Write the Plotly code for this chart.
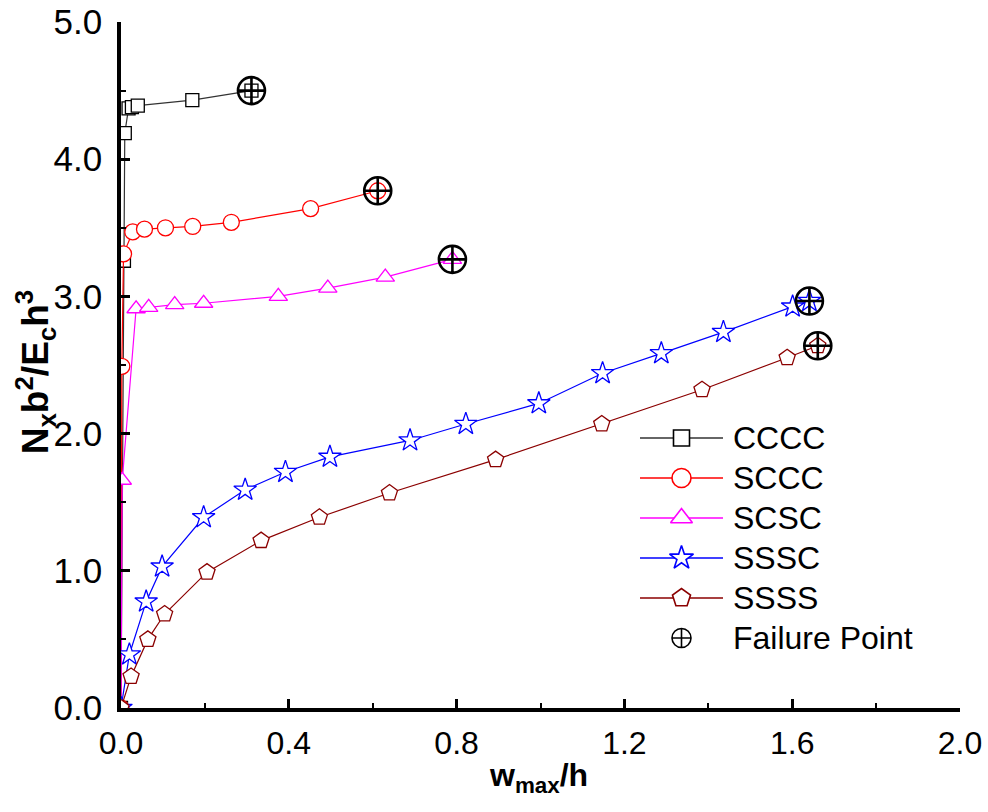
import plotly.graph_objects as go

# ---- data ----
cccc_x = [0.0, 0.007, 0.009, 0.018, 0.026, 0.040, 0.170, 0.311]
cccc_y = [0.0, 3.26, 4.19, 4.37, 4.38, 4.39, 4.43, 4.50]

sccc_x = [0.0, 0.002, 0.006, 0.028, 0.056, 0.106, 0.171, 0.263, 0.452, 0.612]
sccc_y = [0.0, 2.49, 3.31, 3.47, 3.49, 3.50, 3.51, 3.54, 3.64, 3.77]

scsc_x = [0.0, 0.003, 0.036, 0.066, 0.128, 0.197, 0.375, 0.493, 0.630, 0.790]
scsc_y = [0.0, 1.66, 2.91, 2.92, 2.94, 2.95, 3.00, 3.06, 3.14, 3.27]

sssc_x = [0.0, 0.020, 0.060, 0.098, 0.197, 0.296, 0.392, 0.498, 0.689, 0.822,
          0.996, 1.148, 1.288, 1.436, 1.601, 1.641]
sssc_y = [0.0, 0.39, 0.775, 1.03, 1.39, 1.59, 1.72, 1.83, 1.95, 2.07,
          2.22, 2.44, 2.585, 2.74, 2.925, 2.966]

ssss_x = [0.0, 0.024, 0.064, 0.104, 0.205, 0.334, 0.473, 0.640, 0.893,
          1.146, 1.385, 1.588, 1.661]
ssss_y = [0.0, 0.23, 0.50, 0.685, 0.99, 1.22, 1.39, 1.567, 1.81,
          2.07, 2.32, 2.553, 2.64]

fail_x = [0.311, 0.612, 0.790, 1.641, 1.661]
fail_y = [4.50, 3.77, 3.27, 2.966, 2.64]

x_ticks = [0.0, 0.4, 0.8, 1.2, 1.6, 2.0]
y_ticks = [0.0, 1.0, 2.0, 3.0, 4.0, 5.0]

series_names = ["CCCC", "SCCC", "SCSC", "SSSC", "SSSS"]
fail_name = "Failure Point"

FONT = "Liberation Sans, Arial, sans-serif"

styles = [
    ("#000000", "#333333", "square", 13, 16),
    ("#FF0000", "#FF0000", "circle", 16, 19),
    ("#FF00FF", "#FF00FF", "triangle-up", 16, 19),
    ("#0000FF", "#0000FF", "star", 17, 18),
    ("#8B0000", "#8B0000", "pentagon", 17, 19),
]
data = [(cccc_x, cccc_y), (sccc_x, sccc_y), (scsc_x, scsc_y),
        (sssc_x, sssc_y), (ssss_x, ssss_y)]

fig = go.Figure()
for name, (xs, ys), (mcol, lcol, sym, sz, _) in zip(series_names, data, styles):
    fig.add_trace(go.Scatter(
        x=xs, y=ys, name=name, mode="lines+markers", showlegend=False,
        line=dict(color=lcol, width=1.2),
        marker=dict(symbol=sym, size=sz, color="white",
                    line=dict(color=mcol, width=1.3)),
    ))

fig.add_trace(go.Scatter(
    x=fail_x, y=fail_y, name=fail_name, mode="markers", showlegend=False,
    marker=dict(symbol="circle-cross-open", size=27, color="black",
                line=dict(color="black", width=2.6)),
))

# ---- custom legend drawn on an overlay axis measured in pixels ----
LEG_X0, LEG_X1, LEG_TXT = 640, 723, 731
LEG_Y0, LEG_DY = 438, 40
for i, (name, (mcol, lcol, sym, _, lsz)) in enumerate(zip(series_names, styles)):
    yy = LEG_Y0 + i * LEG_DY
    fig.add_trace(go.Scatter(
        x=[LEG_X0, LEG_X1], y=[yy, yy], xaxis="x2", yaxis="y2", mode="lines",
        line=dict(color=lcol, width=1.5), showlegend=False, hoverinfo="skip"))
    fig.add_trace(go.Scatter(
        x=[(LEG_X0 + LEG_X1) / 2], y=[yy], xaxis="x2", yaxis="y2", mode="markers",
        marker=dict(symbol=sym, size=lsz, color="white", line=dict(color=mcol, width=1.6)),
        showlegend=False, hoverinfo="skip"))
    fig.add_annotation(x=LEG_TXT, y=yy, xref="x2", yref="y2", text=name,
                       showarrow=False, xanchor="left", yanchor="middle",
                       font=dict(family=FONT, size=32, color="black"))
yy = LEG_Y0 + 5 * LEG_DY
fig.add_trace(go.Scatter(
    x=[(LEG_X0 + LEG_X1) / 2], y=[yy], xaxis="x2", yaxis="y2", mode="markers",
    marker=dict(symbol="circle-cross-open", size=19, color="black",
                line=dict(color="black", width=1.6)),
    showlegend=False, hoverinfo="skip"))
fig.add_annotation(x=LEG_TXT, y=yy, xref="x2", yref="y2", text=fail_name,
                   showarrow=False, xanchor="left", yanchor="middle",
                   font=dict(family=FONT, size=32, color="black"))

axis_common = dict(
    showgrid=False, zeroline=False, showline=True, linecolor="black",
    linewidth=3.5, ticks="inside", ticklen=9, tickwidth=3, tickcolor="black",
    mirror=False, layer="above traces", automargin=False,
)

fig.update_layout(
    width=988, height=812,
    margin=dict(l=121, r=28, t=22, b=104, autoexpand=False),
    plot_bgcolor="white", paper_bgcolor="white",
    font=dict(family=FONT, color="black"),
    xaxis=dict(
        range=[0, 2.0], tickvals=x_ticks, ticktext=[f"{v:.1f}" for v in x_ticks],
        minor=dict(ticks="inside", dtick=0.2, ticklen=5, tickwidth=2, tickcolor="black"),
        tickfont=dict(family=FONT, size=32, color="black"), ticklabelstandoff=4,
        **axis_common),
    yaxis=dict(
        range=[0, 5.0], tickvals=y_ticks, ticktext=[f"{v:.1f}" for v in y_ticks],
        minor=dict(ticks="inside", dtick=0.5, ticklen=5, tickwidth=2, tickcolor="black"),
        tickfont=dict(family=FONT, size=35, color="black"), ticklabelstandoff=8,
        **axis_common),
    xaxis2=dict(overlaying="x", range=[121, 960], visible=False, fixedrange=True),
    yaxis2=dict(overlaying="y", range=[708, 22], visible=False, fixedrange=True),
    showlegend=False,
)

# axis titles
fig.add_annotation(
    text="<b>N<sub>x</sub>b<sup>2</sup>/E<sub>c</sub>h<sup>3</sup></b>",
    xref="paper", yref="paper", x=-0.102, y=0.49, xanchor="center", yanchor="middle",
    textangle=-90, showarrow=False, font=dict(family=FONT, size=37, color="black"))
fig.add_annotation(
    text="<b>w<sub>max</sub>/h</b>",
    xref="paper", yref="paper", x=0.498, y=-0.102, xanchor="center", yanchor="middle",
    showarrow=False, font=dict(family=FONT, size=32, color="black"))

fig.write_html("out.html")
